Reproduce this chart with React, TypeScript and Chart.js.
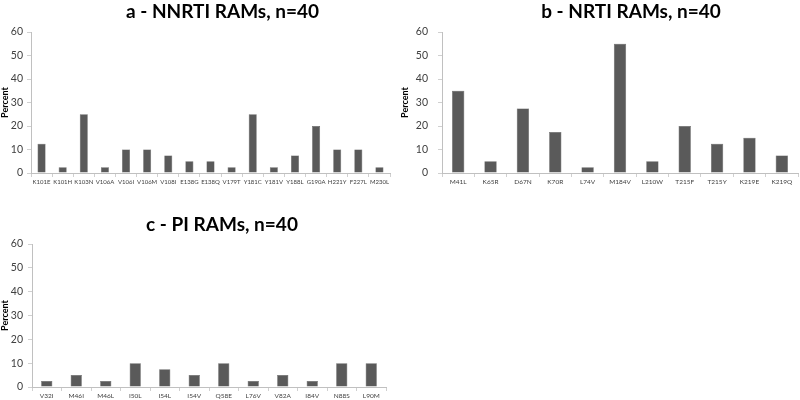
import React, { useEffect, useRef } from "react";
import { Chart, registerables } from "chart.js";

Chart.register(...registerables);

const nnrtiLabels = ["K101E","K101H","K103N","V106A","V106I","V106M","V108I","E138G","E138Q","V179T","Y181C","Y181V","Y188L","G190A","H221Y","F227L","M230L"];
const nnrtiValues = [12.5,2.5,25,2.5,10,10,7.5,5,5,2.5,25,2.5,7.5,20,10,10,2.5];

const nrtiLabels = ["M41L","K65R","D67N","K70R","L74V","M184V","L210W","T215F","T215Y","K219E","K219Q"];
const nrtiValues = [35,5,27.5,17.5,2.5,55,5,20,12.5,15,7.5];

const piLabels = ["V32I","M46I","M46L","I50L","I54L","I54V","Q58E","L76V","V82A","I84V","N88S","L90M"];
const piValues = [2.5,5,2.5,10,7.5,5,10,2.5,5,2.5,10,10];

const yTicks = [0,10,20,30,40,50,60];

const FONT = "Lato, 'Liberation Sans', sans-serif";

type Spec = {
  title: string;
  labels: string[];
  values: number[];
  left: number; top: number; width: number; height: number;
  padTop: number; padRight: number;
  yWidth: number; xHeight: number; tickPad: number; xFont: number;
  titleDx: number; titleDy: number;
};

const specs: Spec[] = [
  { title: "a - NNRTI RAMs, n=40", labels: nnrtiLabels, values: nnrtiValues, left: 0, top: 0, width: 400, height: 190, padTop: 32, padRight: 10, yWidth: 31, xHeight: 17, tickPad: 4, xFont: 6, titleDx: 12, titleDy: 20 },
  { title: "b - NRTI RAMs, n=40", labels: nrtiLabels, values: nrtiValues, left: 400, top: 0, width: 400, height: 190, padTop: 32, padRight: 2, yWidth: 42, xHeight: 17, tickPad: 10, xFont: 6.5, titleDx: 11, titleDy: 20 },
  { title: "c - PI RAMs, n=40", labels: piLabels, values: piValues, left: 0, top: 200, width: 400, height: 200, padTop: 44, padRight: 14, yWidth: 32, xHeight: 13, tickPad: 5, xFont: 6.5, titleDx: 13, titleDy: 19 },
];

function BarPanel({ spec }: { spec: Spec }) {
  const ref = useRef<HTMLCanvasElement | null>(null);
  useEffect(() => {
    if (!ref.current) return;
    const titlePlugin = {
      id: "customTitle",
      afterDraw(chart: any) {
        const { ctx, chartArea } = chart;
        ctx.save();
        ctx.font = `bold 19px ${FONT}`;
        ctx.fillStyle = "#000";
        ctx.textAlign = "center";
        ctx.textBaseline = "middle";
        ctx.fillText(spec.title, (chartArea.left + chartArea.right) / 2 + spec.titleDx, chartArea.top - spec.titleDy);
        ctx.restore();
      },
    };
    const chart = new Chart(ref.current, {
      type: "bar",
      data: {
        labels: spec.labels,
        datasets: [{
          data: spec.values,
          backgroundColor: "#5a5a5a",
          borderColor: "#4a4a4a",
          borderWidth: 0.5,
          barPercentage: 0.38,
          categoryPercentage: 1,
        }],
      },
      options: {
        animation: false,
        responsive: false,
        maintainAspectRatio: false,
        layout: { padding: { top: spec.padTop, right: spec.padRight, left: 0, bottom: 0 } },
        plugins: { legend: { display: false }, tooltip: { enabled: false }, title: { display: false } },
        scales: {
          x: {
            offset: true,
            grid: { display: true, drawOnChartArea: false, drawTicks: true, tickLength: 4, color: "#d0d0d0", offset: true },
            border: { color: "#c0c0c0" },
            ticks: { autoSkip: false, maxRotation: 0, minRotation: 0, padding: 1, color: "#404040", font: { family: FONT, size: spec.xFont } },
            afterFit: (s: any) => { s.height = spec.xHeight; },
          },
          y: {
            min: 0, max: 60,
            afterBuildTicks: (s: any) => { s.ticks = yTicks.map((v) => ({ value: v })); },
            grid: { display: true, drawOnChartArea: false, drawTicks: true, tickLength: 4, color: "#d0d0d0" },
            border: { color: "#c0c0c0" },
            ticks: { padding: spec.tickPad, color: "#404040", font: { family: FONT, size: 10.5 } },
            title: { display: true, text: "Percent", color: "#000", font: { family: FONT, size: 9, weight: "bold" }, padding: { top: 0, bottom: 0 } },
            afterFit: (s: any) => { s.width = spec.yWidth; },
          },
        },
      },
      plugins: [titlePlugin],
    } as any);
    return () => chart.destroy();
  }, []);
  return (
    <div style={{ position: "absolute", left: spec.left, top: spec.top, width: spec.width, height: spec.height }}>
      <canvas ref={ref} width={spec.width} height={spec.height} style={{ width: spec.width, height: spec.height }} />
    </div>
  );
}

export default function App() {
  return (
    <div style={{ position: "fixed", left: 0, top: 0, width: 800, height: 400, background: "#fff" }}>
      {specs.map((s, i) => <BarPanel key={i} spec={s} />)}
    </div>
  );
}
